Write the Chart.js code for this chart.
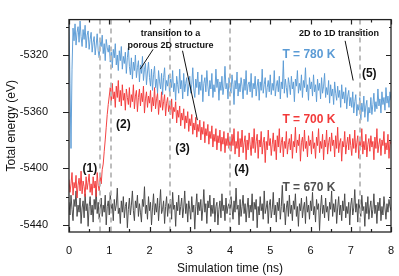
<!DOCTYPE html>
<html>
<head>
<meta charset="utf-8">
<script src="https://cdn.jsdelivr.net/npm/chart.js@4/dist/chart.umd.min.js"></script>
<style>
  html, body { margin: 0; padding: 0; background: #fff; }
  #wrap { width: 399px; height: 276px; }
</style>
</head>
<body>
<div id="wrap"><canvas id="chart"></canvas></div>
<script>
// sample spacing of the MD traces (ns)
const timeStep = 0.025;

// T = 780 K trace (eV), one row per 0.5 ns
const energy780 = [
  -5296,-5340,-5386,-5330,-5301,-5310,-5298,-5313,-5304,-5300,-5311,-5296,-5307,-5314,-5302,-5309,-5299,-5315,-5306,-5303,
  -5316,-5309,-5304,-5318,-5311,-5307,-5320,-5313,-5305,-5317,-5322,-5310,-5314,-5306,-5319,-5312,-5324,-5309,-5315,-5318,
  -5313,-5325,-5318,-5329,-5316,-5322,-5312,-5327,-5320,-5331,-5317,-5324,-5314,-5330,-5321,-5326,-5318,-5333,-5322,-5315,
  -5328,-5334,-5322,-5337,-5325,-5331,-5320,-5336,-5329,-5324,-5339,-5327,-5333,-5321,-5338,-5330,-5326,-5341,-5332,-5325,
  -5336,-5342,-5330,-5345,-5334,-5328,-5343,-5337,-5347,-5331,-5339,-5344,-5333,-5348,-5336,-5329,-5345,-5338,-5342,-5334,
  -5349,-5337,-5343,-5331,-5346,-5340,-5352,-5335,-5341,-5347,-5330,-5344,-5338,-5351,-5333,-5346,-5340,-5336,-5349,-5342,
  -5335,-5347,-5341,-5329,-5344,-5350,-5337,-5343,-5332,-5348,-5339,-5345,-5334,-5353,-5340,-5336,-5346,-5331,-5342,-5349,
  -5338,-5344,-5333,-5350,-5341,-5346,-5330,-5343,-5337,-5352,-5339,-5345,-5335,-5348,-5342,-5328,-5344,-5340,-5351,-5336,
  -5343,-5347,-5334,-5341,-5355,-5338,-5344,-5332,-5349,-5340,-5346,-5336,-5342,-5351,-5337,-5345,-5331,-5348,-5341,-5339,
  -5346,-5333,-5350,-5340,-5344,-5335,-5349,-5342,-5337,-5352,-5339,-5345,-5330,-5347,-5341,-5336,-5350,-5343,-5338,-5346,
  -5334,-5348,-5340,-5345,-5331,-5349,-5342,-5338,-5346,-5335,-5351,-5339,-5344,-5324,-5347,-5337,-5343,-5350,-5336,-5341,
  -5348,-5335,-5344,-5339,-5353,-5337,-5342,-5331,-5347,-5340,-5345,-5334,-5350,-5338,-5343,-5329,-5346,-5341,-5352,-5336,
  -5344,-5339,-5349,-5334,-5346,-5341,-5353,-5337,-5345,-5340,-5351,-5336,-5347,-5342,-5333,-5350,-5343,-5348,-5338,-5354,
  -5341,-5349,-5344,-5355,-5339,-5347,-5352,-5342,-5350,-5345,-5357,-5341,-5351,-5346,-5354,-5343,-5358,-5349,-5345,-5356,
  -5350,-5357,-5346,-5361,-5353,-5348,-5363,-5355,-5359,-5350,-5366,-5354,-5360,-5349,-5364,-5356,-5352,-5367,-5357,-5361,
  -5350,-5362,-5355,-5347,-5360,-5353,-5358,-5344,-5356,-5351,-5361,-5346,-5355,-5350,-5359,-5343,-5354,-5349,-5357,-5346,
  -5352
];

// T = 700 K trace (eV), one row per 0.5 ns
const energy700 = [
  -5408,-5417,-5411,-5403,-5419,-5410,-5414,-5405,-5421,-5412,-5407,-5416,-5402,-5418,-5409,-5413,-5420,-5406,-5415,-5410,
  -5404,-5417,-5411,-5419,-5406,-5414,-5409,-5420,-5403,-5412,-5416,-5405,-5411,-5401,-5397,-5388,-5380,-5371,-5362,-5355,
  -5349,-5343,-5354,-5340,-5351,-5346,-5357,-5342,-5350,-5338,-5353,-5345,-5356,-5341,-5352,-5347,-5359,-5344,-5350,-5355,
  -5343,-5357,-5348,-5353,-5341,-5358,-5349,-5345,-5360,-5350,-5344,-5356,-5347,-5353,-5342,-5361,-5351,-5346,-5357,-5349,
  -5354,-5345,-5360,-5350,-5356,-5343,-5358,-5351,-5347,-5362,-5352,-5357,-5346,-5359,-5353,-5348,-5363,-5354,-5350,-5360,
  -5355,-5362,-5351,-5365,-5357,-5360,-5353,-5368,-5359,-5364,-5356,-5370,-5361,-5366,-5358,-5372,-5363,-5368,-5360,-5374,
  -5365,-5370,-5362,-5376,-5368,-5373,-5364,-5378,-5369,-5374,-5366,-5380,-5371,-5376,-5367,-5382,-5372,-5377,-5369,-5383,
  -5374,-5379,-5370,-5385,-5376,-5381,-5372,-5387,-5377,-5382,-5373,-5388,-5378,-5383,-5374,-5389,-5379,-5384,-5375,-5386,
  -5380,-5388,-5376,-5384,-5372,-5390,-5381,-5386,-5374,-5392,-5379,-5385,-5373,-5389,-5382,-5377,-5394,-5380,-5387,-5375,
  -5383,-5391,-5378,-5386,-5372,-5389,-5381,-5376,-5393,-5380,-5385,-5374,-5390,-5382,-5378,-5396,-5381,-5387,-5373,-5384,
  -5379,-5391,-5383,-5375,-5388,-5380,-5394,-5377,-5385,-5372,-5389,-5382,-5378,-5392,-5381,-5386,-5374,-5390,-5383,-5379,
  -5387,-5376,-5393,-5381,-5385,-5371,-5389,-5380,-5384,-5376,-5395,-5382,-5378,-5388,-5373,-5386,-5381,-5392,-5377,-5384,
  -5380,-5390,-5374,-5386,-5382,-5393,-5378,-5384,-5372,-5389,-5381,-5386,-5376,-5394,-5380,-5385,-5373,-5390,-5382,-5378,
  -5388,-5375,-5384,-5380,-5392,-5377,-5386,-5371,-5389,-5382,-5379,-5395,-5381,-5385,-5374,-5390,-5383,-5378,-5387,-5376,
  -5384,-5391,-5379,-5386,-5373,-5389,-5382,-5377,-5393,-5380,-5385,-5372,-5390,-5381,-5387,-5376,-5392,-5383,-5379,-5388,
  -5377,-5385,-5381,-5394,-5378,-5386,-5372,-5389,-5383,-5379,-5391,-5380,-5384,-5374,-5390,-5382,-5387,-5376,-5393,-5381,
  -5383
];

// T = 670 K trace (eV), one row per 0.5 ns
const energy670 = [
  -5424,-5433,-5419,-5429,-5437,-5422,-5427,-5416,-5434,-5426,-5431,-5421,-5439,-5428,-5423,-5435,-5418,-5430,-5425,-5441,
  -5427,-5420,-5433,-5426,-5438,-5422,-5429,-5415,-5432,-5424,-5436,-5428,-5421,-5434,-5426,-5431,-5419,-5440,-5427,-5423,
  -5433,-5417,-5429,-5425,-5437,-5422,-5430,-5426,-5414,-5432,-5428,-5439,-5423,-5431,-5420,-5435,-5427,-5424,-5442,-5429,
  -5421,-5433,-5426,-5416,-5430,-5437,-5423,-5428,-5419,-5434,-5425,-5431,-5438,-5422,-5427,-5413,-5432,-5426,-5436,-5420,
  -5430,-5424,-5440,-5428,-5418,-5433,-5425,-5431,-5421,-5437,-5426,-5415,-5432,-5429,-5423,-5439,-5427,-5420,-5434,-5425,
  -5431,-5422,-5436,-5417,-5429,-5426,-5441,-5424,-5430,-5419,-5433,-5427,-5421,-5435,-5428,-5416,-5432,-5425,-5438,-5423,
  -5429,-5436,-5420,-5431,-5426,-5443,-5427,-5418,-5433,-5424,-5430,-5422,-5437,-5428,-5415,-5431,-5425,-5439,-5423,-5428,
  -5419,-5434,-5426,-5432,-5421,-5438,-5427,-5424,-5440,-5429,-5423,-5435,-5418,-5430,-5426,-5437,-5421,-5432,-5427,-5425,
  -5433,-5420,-5428,-5436,-5423,-5431,-5414,-5429,-5426,-5440,-5422,-5434,-5427,-5419,-5432,-5425,-5438,-5428,-5421,-5435,
  -5426,-5431,-5418,-5437,-5424,-5429,-5422,-5442,-5427,-5433,-5420,-5430,-5425,-5436,-5416,-5432,-5428,-5423,-5439,-5426,
  -5422,-5435,-5429,-5417,-5433,-5426,-5438,-5424,-5430,-5421,-5436,-5427,-5412,-5431,-5425,-5440,-5428,-5423,-5434,-5419,
  -5432,-5426,-5437,-5423,-5429,-5418,-5434,-5427,-5441,-5425,-5430,-5421,-5435,-5428,-5424,-5439,-5420,-5431,-5426,-5436,
  -5423,-5430,-5417,-5433,-5427,-5438,-5422,-5429,-5425,-5444,-5428,-5419,-5432,-5426,-5435,-5421,-5431,-5427,-5437,-5424,
  -5429,-5416,-5434,-5425,-5431,-5422,-5439,-5428,-5420,-5433,-5426,-5437,-5423,-5430,-5418,-5435,-5427,-5432,-5424,-5440,
  -5426,-5421,-5433,-5428,-5415,-5431,-5425,-5438,-5422,-5429,-5434,-5419,-5430,-5427,-5441,-5424,-5432,-5420,-5436,-5428,
  -5423,-5435,-5429,-5418,-5432,-5426,-5439,-5424,-5430,-5421,-5437,-5427,-5433,-5420,-5428,-5436,-5425,-5431,-5422,-5427,
  -5430
];

// axis ticks
const xMajor = [0, 1, 2, 3, 4, 5, 6, 7, 8];
const xMinor = [0.5, 1.5, 2.5, 3.5, 4.5, 5.5, 6.5, 7.5];
const yMajor = [-5440, -5400, -5360, -5320];
const yMinor = [-5420, -5380, -5340, -5300];

// dashed markers of the transition stages (ns)
const stageTimes = [0.78, 1.05, 2.5, 4.0, 7.22];

function toPoints(arr) {
  return arr.map((v, i) => ({ x: i * timeStep, y: v }));
}

const FONT = "'Liberation Sans', Arial, sans-serif";

// frame, tick marks, dashed lines and text notes
const decorPlugin = {
  id: "decor",
  afterDatasetsDraw(chart) {
    const ctx = chart.ctx;
    const xs = chart.scales.x, ys = chart.scales.y;
    const a = chart.chartArea;
    ctx.save();

    // dashed stage lines
    ctx.strokeStyle = "rgba(185,185,185,0.95)";
    ctx.lineWidth = 2;
    ctx.setLineDash([5, 4]);
    stageTimes.forEach((t) => {
      const px = Math.round(xs.getPixelForValue(t));
      ctx.beginPath();
      ctx.moveTo(px, a.top);
      ctx.lineTo(px, a.bottom);
      ctx.stroke();
    });
    ctx.setLineDash([]);

    // frame
    ctx.strokeStyle = "#222";
    ctx.lineWidth = 1.3;
    ctx.strokeRect(a.left, a.top, a.right - a.left, a.bottom - a.top);

    // ticks
    ctx.lineWidth = 1.2;
    ctx.beginPath();
    const yTick = (list, len) => list.forEach((v) => {
      const py = Math.round(ys.getPixelForValue(v)) + 0.5;
      ctx.moveTo(a.left - len, py); ctx.lineTo(a.left, py);
      ctx.moveTo(a.right - len + 1, py); ctx.lineTo(a.right, py);
    });
    const xTick = (list, len) => list.forEach((v) => {
      const px = Math.round(xs.getPixelForValue(v)) + 0.5;
      ctx.moveTo(px, a.bottom - len); ctx.lineTo(px, a.bottom);
      ctx.moveTo(px, a.top); ctx.lineTo(px, a.top + len);
    });
    yTick(yMajor, 6); yTick(yMinor, 3);
    xTick(xMajor, 5); xTick(xMinor, 3);
    ctx.stroke();

    // leader lines
    ctx.strokeStyle = "#111";
    ctx.lineWidth = 1;
    const seg = (t1, v1, t2, v2) => {
      ctx.beginPath();
      ctx.moveTo(xs.getPixelForValue(t1), ys.getPixelForValue(v1));
      ctx.lineTo(xs.getPixelForValue(t2), ys.getPixelForValue(v2));
      ctx.stroke();
    };
    seg(2.09, -5316, 1.77, -5330);
    seg(2.82, -5317, 3.19, -5366);
    seg(6.86, -5310, 7.06, -5338);

    // text notes
    ctx.textAlign = "center";
    ctx.textBaseline = "middle";
    const text = (s, t, v, color, size) => {
      ctx.fillStyle = color;
      ctx.font = "bold " + size + "px " + FONT;
      ctx.fillText(s, xs.getPixelForValue(t), ys.getPixelForValue(v));
    };
    text("(1)", 0.52, -5400, "#111", 12);
    text("(2)", 1.35, -5369, "#111", 12);
    text("(3)", 2.82, -5386, "#111", 12);
    text("(4)", 4.29, -5401, "#111", 12);
    text("(5)", 7.46, -5333, "#111", 12);
    text("transition to a", 2.52, -5305, "#111", 9);
    text("porous 2D structure", 2.52, -5313.5, "#111", 9);
    text("2D to 1D transition", 6.71, -5305, "#111", 9);
    text("T = 780 K", 5.96, -5320, "#5b9bd5", 12);
    text("T = 700 K", 5.96, -5366, "#f23a3a", 12);
    text("T = 670 K", 5.96, -5414, "#505050", 12);

    ctx.restore();
  },
};

new Chart(document.getElementById("chart"), {
  type: "line",
  data: {
    datasets: [
      { label: "T = 780 K", data: toPoints(energy780), borderColor: "rgba(91,155,213,0.95)" },
      { label: "T = 700 K", data: toPoints(energy700), borderColor: "rgba(242,58,58,0.95)" },
      { label: "T = 670 K", data: toPoints(energy670), borderColor: "rgba(70,70,70,0.95)" },
    ],
  },
  options: {
    responsive: true,
    maintainAspectRatio: false,
    animation: false,
    layout: { padding: { left: 0, right: 8, top: 5, bottom: 0 } },
    elements: {
      point: { radius: 0 },
      line: { borderWidth: 1, tension: 0 },
    },
    plugins: { legend: { display: false }, tooltip: { enabled: false } },
    scales: {
      x: {
        type: "linear",
        min: 0,
        max: 8,
        afterBuildTicks: (s) => { s.ticks = xMajor.map((v) => ({ value: v })); },
        afterFit: (s) => { s.height = 44; },
        grid: { display: false },
        border: { display: false },
        ticks: { color: "#111", padding: 4, maxRotation: 0, font: { family: FONT, size: 11 }, callback: (v) => String(v) },
        title: {
          display: true,
          text: "Simulation time (ns)",
          color: "#111",
          padding: { top: 3, bottom: 0 },
          font: { family: FONT, size: 12 },
        },
      },
      y: {
        min: -5445,
        max: -5295,
        afterBuildTicks: (s) => { s.ticks = yMajor.map((v) => ({ value: v })); },
        afterFit: (s) => { s.width = 69; },
        grid: { display: false },
        border: { display: false },
        ticks: { color: "#111", padding: 13, font: { family: FONT, size: 11 }, callback: (v) => String(v) },
        title: {
          display: true,
          text: "Total energy (eV)",
          color: "#111",
          padding: { top: 4, bottom: 0 },
          font: { family: FONT, size: 12 },
        },
      },
    },
  },
  plugins: [decorPlugin],
});
</script>
</body>
</html>
